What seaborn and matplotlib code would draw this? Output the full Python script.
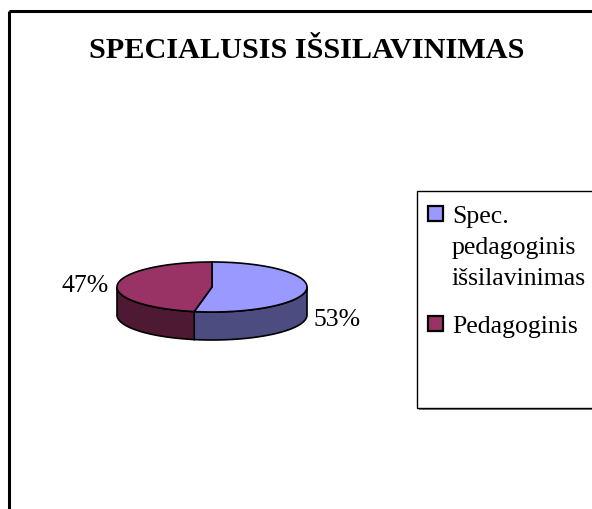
import numpy as np
import matplotlib
matplotlib.use("Agg")
import matplotlib.pyplot as plt
import seaborn as sns
from matplotlib.patches import Polygon, Rectangle

sns.set_theme(style="white")
plt.rcParams['font.family'] = ['Liberation Serif', 'DejaVu Serif']
plt.rcParams['text.color'] = 'black'

title = "SPECIALUSIS IŠSILAVINIMAS"
categories = ["Spec.\npedagoginis\nišsilavinimas", "Pedagoginis"]
values = [53, 47]
pct_labels = ["53%", "47%"]
top_colors = ["#9999FF", "#993366"]
side_colors = ["#4C4C80", "#4D1933"]

fig = plt.figure(figsize=(5.92, 5.10), dpi=100)
ax = fig.add_axes([0, 0, 1, 1])
ax.set_xlim(0, 592)
ax.set_ylim(510, 0)
ax.axis("off")

# outer frame (top and left visible)
ax.plot([9, 592], [12, 12], color="black", lw=2.2, solid_capstyle="butt")
ax.plot([9, 9], [12, 510], color="black", lw=2.2, solid_capstyle="butt")

ax.text(307, 50, title, ha="center", va="center", fontsize=21.8, fontweight="bold", color="black")

# 3D pie
cx, cy, a, b, depth = 212, 288, 95, 25, 28
total = sum(values)
start = 90.0
for val, tc, sc in zip(values, top_colors, side_colors):
    sweep = 360.0 * val / total
    t0, t1 = start - sweep, start  # clockwise
    ths_all = np.linspace(t0, t1, 300)
    front = [t for t in ths_all if np.sin(np.radians(t)) <= 0]
    if front:
        th = np.radians(np.array(front))
        xs = cx + a * np.cos(th)
        ys = cy - b * np.sin(th)
        pts = list(zip(xs, ys)) + list(zip(xs[::-1], ys[::-1] + depth))
        ax.add_patch(Polygon(pts, closed=True, facecolor=sc, edgecolor="black", lw=1.2, zorder=2))
    th = np.radians(np.linspace(t0, t1, 300))
    xs = cx + a * np.cos(th)
    ys = cy - b * np.sin(th)
    pts = [(cx, cy)] + list(zip(xs, ys))
    ax.add_patch(Polygon(pts, closed=True, facecolor=tc, edgecolor="black", lw=1.2, zorder=3))
    start = t0

ax.text(337, 320, pct_labels[0], ha="center", va="center", fontsize=18.5, color="black")
ax.text(85, 286, pct_labels[1], ha="center", va="center", fontsize=18.5, color="black")

# legend box with shadow
ax.add_patch(Rectangle((419, 194), 200, 217, facecolor="#808080", edgecolor="none", zorder=1))
ax.add_patch(Rectangle((417, 192), 200, 217, facecolor="white", edgecolor="black", lw=1.0, zorder=2))
baselines = [223, 333]
line_step = 31
for lab, col, bl in zip(categories, top_colors, baselines):
    ax.add_patch(Rectangle((428, bl - 16), 15, 15, facecolor=col, edgecolor="black", lw=1.6, zorder=3))
    for i, line in enumerate(lab.split("\n")):
        ax.text(452, bl + i * line_step, line, ha="left", va="baseline", fontsize=18.5,
                color="black", zorder=4)

fig.savefig("out.png", dpi=100)
